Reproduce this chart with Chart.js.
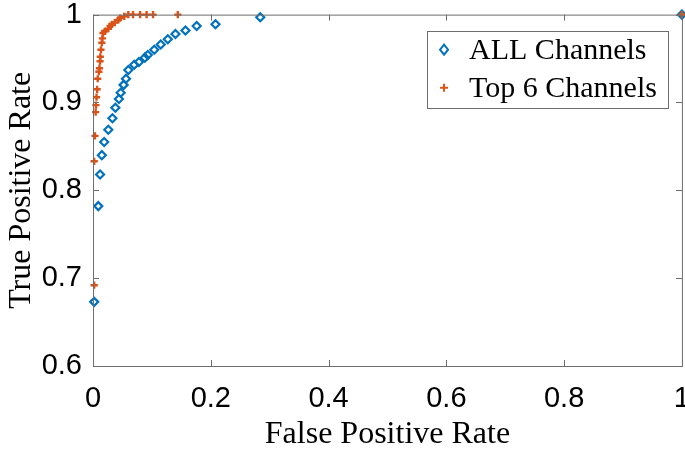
<!DOCTYPE html>
<html>
<head>
<meta charset="utf-8">
<script src="https://cdn.jsdelivr.net/npm/chart.js@4/dist/chart.umd.min.js"></script>
<style>
  html, body { margin: 0; padding: 0; background: #fff; overflow: hidden; }
  #wrap { width: 706px; height: 450px; }
</style>
</head>
<body>
<div id="wrap"><canvas id="rocChart"></canvas></div>
<script>
// ROC points
var seriesNames = ["ALL Channels", "Top 6 Channels"];

var allFpr = [0.002, 0.009, 0.012, 0.015, 0.019, 0.026, 0.033, 0.038, 0.044, 0.047, 0.052, 0.056, 0.060,
  0.070, 0.078, 0.088, 0.093, 0.104, 0.115, 0.127, 0.140, 0.157, 0.176, 0.208, 0.284, 1.0];
var allTpr = [0.673, 0.782, 0.818, 0.840, 0.855, 0.869, 0.882, 0.894, 0.904, 0.911, 0.920, 0.927, 0.937,
  0.943, 0.946, 0.951, 0.954, 0.960, 0.966, 0.972, 0.978, 0.982, 0.987, 0.989, 0.997, 1.0];

var top6Fpr = [0.002, 0.002, 0.0034, 0.0045, 0.005, 0.006, 0.007, 0.008, 0.010, 0.011, 0.012, 0.0124, 0.0135,
  0.015, 0.016, 0.017, 0.020, 0.026, 0.029, 0.032, 0.037, 0.043, 0.046, 0.053, 0.060, 0.068, 0.080, 0.091,
  0.102, 0.144, 1.0];
var top6Tpr = [0.692, 0.833, 0.862, 0.889, 0.897, 0.906, 0.915, 0.927, 0.935, 0.939, 0.947, 0.952, 0.960,
  0.968, 0.973, 0.979, 0.981, 0.984, 0.987, 0.989, 0.991, 0.994, 0.996, 0.998, 1.0, 1.0, 1.0, 1.0,
  1.0, 1.0, 1.0];

var xTicks = [0, 0.2, 0.4, 0.6, 0.8, 1];
var yTicks = [0.6, 0.7, 0.8, 0.9, 1];

var blue = "#0072BD";
var orange = "#D95319";
var boxColor = "#6e6e6e";

function toPoints(xs, ys) {
  var pts = [];
  for (var i = 0; i < xs.length; i++) pts.push({ x: xs[i], y: ys[i] });
  return pts;
}

// axes box with inward ticks on all four sides (MATLAB style)
var boxPlugin = {
  id: "boxPlugin",
  afterDatasetsDraw: function(chart) {
    var ctx = chart.ctx;
    var a = chart.chartArea;
    var xs = chart.scales.x, ys = chart.scales.y;
    var len = 6;
    ctx.save();
    ctx.strokeStyle = boxColor;
    ctx.lineWidth = 1;
    ctx.strokeRect(a.left + 0.5, a.top + 0.5, a.right - a.left, a.bottom - a.top);
    ctx.beginPath();
    xTicks.forEach(function(v) {
      var px = Math.round(xs.getPixelForValue(v)) + 0.5;
      ctx.moveTo(px, a.bottom); ctx.lineTo(px, a.bottom - len);
      ctx.moveTo(px, a.top); ctx.lineTo(px, a.top + len);
    });
    yTicks.forEach(function(v) {
      var py = Math.round(ys.getPixelForValue(v)) + 0.5;
      ctx.moveTo(a.left, py); ctx.lineTo(a.left + len, py);
      ctx.moveTo(a.right, py); ctx.lineTo(a.right - len, py);
    });
    ctx.stroke();
    ctx.restore();
  },
  afterDraw: function(chart) {
    // boxed legend in the upper right of the axes
    var ctx = chart.ctx;
    var a = chart.chartArea;
    ctx.save();
    ctx.font = "30px 'Liberation Serif'";
    var w = 0;
    seriesNames.forEach(function(n) { w = Math.max(w, ctx.measureText(n).width); });
    var bw = 42 + w + 11, bh = 77;
    var bx = a.right - 14 - bw, by = a.top + 16;
    ctx.fillStyle = "#fff";
    ctx.fillRect(bx, by, bw, bh);
    ctx.strokeStyle = boxColor;
    ctx.lineWidth = 1;
    ctx.strokeRect(Math.round(bx) + 0.5, Math.round(by) + 0.5, Math.round(bw), bh);
    ctx.textBaseline = "middle";
    ctx.fillStyle = "#000";
    chart.data.datasets.forEach(function(ds, i) {
      var cy = by + 19 + i * 38;
      var mx = bx + 17;
      ctx.strokeStyle = ds.borderColor;
      ctx.lineWidth = 2;
      ctx.beginPath();
      if (ds.pointStyle === "rectRot") {
        ctx.moveTo(mx, cy - 5); ctx.lineTo(mx + 4, cy); ctx.lineTo(mx, cy + 5); ctx.lineTo(mx - 4, cy);
        ctx.closePath();
      } else {
        ctx.moveTo(mx - 4, cy); ctx.lineTo(mx + 4, cy);
        ctx.moveTo(mx, cy - 4); ctx.lineTo(mx, cy + 4);
      }
      ctx.stroke();
      ctx.fillText(ds.label, bx + 42, cy + 1);
    });
    ctx.restore();
  }
};

var ctx = document.getElementById("rocChart").getContext("2d");
var rocChart = new Chart(ctx, {
  type: "scatter",
  data: {
    datasets: [{
      label: seriesNames[0],
      data: toPoints(allFpr, allTpr),
      pointStyle: "rectRot",
      pointRadius: 4,
      borderWidth: 2.2,
      borderColor: blue,
      backgroundColor: "rgba(255,255,255,0)",
      order: 1,
      clip: false
    }, {
      label: seriesNames[1],
      data: toPoints(top6Fpr, top6Tpr),
      pointStyle: "cross",
      pointRadius: 3.6,
      borderWidth: 2.4,
      borderColor: orange,
      backgroundColor: orange,
      order: 0,
      clip: false
    }]
  },
  options: {
    responsive: true,
    maintainAspectRatio: false,
    animation: false,
    events: [],
    layout: { padding: { left: 2, top: 0, right: 0, bottom: 0 } },
    plugins: {
      legend: { display: false },
      tooltip: { enabled: false }
    },
    scales: {
      x: {
        type: "linear",
        min: 0,
        max: 1,
        afterBuildTicks: function(axis) {
          axis.ticks = xTicks.map(function(v) { return { value: v }; });
        },
        afterFit: function(axis) { axis.height = 84; },
        grid: { display: false, drawTicks: false },
        border: { display: false },
        ticks: {
          color: "#000",
          padding: 16,
          maxRotation: 0,
          font: { family: "'Liberation Sans'", size: 29 },
          callback: function(v) { return String(Math.round(v * 10) / 10); }
        },
        title: {
          display: true,
          text: "False Positive Rate",
          color: "#000",
          padding: { top: 0, bottom: -4 },
          font: { family: "'Liberation Serif'", size: 32 }
        }
      },
      y: {
        type: "linear",
        min: 0.6,
        max: 1,
        afterBuildTicks: function(axis) {
          axis.ticks = yTicks.map(function(v) { return { value: v }; });
        },
        afterFit: function(axis) { axis.width = 91; },
        grid: { display: false, drawTicks: false },
        border: { display: false },
        ticks: {
          color: "#000",
          padding: 11,
          font: { family: "'Liberation Sans'", size: 29, lineHeight: 0.25 },
          callback: function(v) { return String(Math.round(v * 10) / 10); }
        },
        title: {
          display: true,
          text: "True Positive Rate",
          color: "#000",
          padding: { top: 0, bottom: 0 },
          font: { family: "'Liberation Serif'", size: 32 }
        }
      }
    }
  },
  plugins: [boxPlugin]
});
</script>
</body>
</html>
